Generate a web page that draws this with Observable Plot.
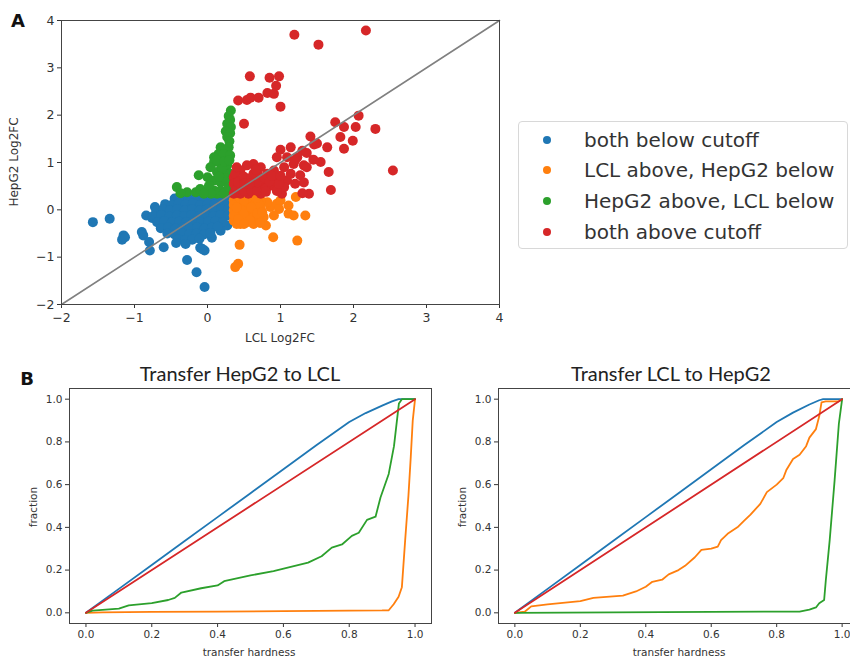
<!DOCTYPE html>
<html><head><meta charset="utf-8">
<script src="https://cdn.jsdelivr.net/npm/d3@7"></script>
<script src="https://cdn.jsdelivr.net/npm/@observablehq/plot@0.6"></script>
<style>
body{margin:0;background:#fff;overflow:hidden}
#root{position:relative;width:850px;height:659px;overflow:hidden;font-family:"DejaVu Sans",sans-serif;color:#333;background:#fff}
.abs{position:absolute;white-space:nowrap;line-height:1}
svg{position:absolute;overflow:visible}
</style></head><body><div id="root"></div>
<script>
// ---------- categories & colours ----------
const categories = ["both below cutoff", "LCL above, HepG2 below", "HepG2 above, LCL below", "both above cutoff"];
const palette = ["#1f77b4", "#ff7f0e", "#2ca02c", "#d62728"];

// ---------- panel A scatter values (LCL Log2FC, HepG2 Log2FC) ----------
const bothBelow = [
  [-1.57,-0.26],[-1.34,-0.19],[-1.15,-0.54],[-1.17,-0.63],[-1.13,-0.58],[-0.90,-0.47],[-0.88,-0.54],[-0.80,-0.68],
  [-0.79,-0.86],[-0.84,-0.12],[-0.72,0.06],[-0.60,-0.79],[-0.28,-1.06],[-0.15,-1.32],[-0.04,-1.63],[-0.10,-0.80],
  [-0.04,-0.86],[-0.07,-0.83],[0.06,-0.59],[0.18,-0.44],[0.27,-0.33],[-0.76,-0.17],[-0.66,-0.10],
  [-0.45,0.24],[-0.36,0.26],[-0.26,0.25],[-0.15,0.27],[-0.05,0.24],[0.05,0.26],[0.15,0.25],[0.25,0.24],
  [-0.58,0.12],[-0.49,0.10],[-0.40,0.13],[-0.30,0.11],[-0.20,0.13],[-0.10,0.10],[0.00,0.12],[0.10,0.11],[0.20,0.13],[0.28,0.12],
  [-0.70,-0.02],[-0.61,0.01],[-0.51,-0.01],[-0.41,0.02],[-0.31,-0.01],[-0.21,0.01],[-0.11,-0.02],[-0.01,0.01],[0.09,-0.01],[0.19,0.02],[0.28,0.00],
  [-0.74,-0.13],[-0.63,-0.11],[-0.52,-0.14],[-0.42,-0.12],[-0.32,-0.13],[-0.22,-0.11],[-0.12,-0.14],[-0.02,-0.12],[0.08,-0.13],[0.18,-0.11],[0.28,-0.12],
  [-0.69,-0.26],[-0.59,-0.24],[-0.49,-0.27],[-0.39,-0.25],[-0.29,-0.26],[-0.19,-0.24],[-0.09,-0.27],[0.01,-0.25],[0.11,-0.24],[0.21,-0.26],
  [-0.64,-0.39],[-0.54,-0.37],[-0.44,-0.40],[-0.34,-0.38],[-0.24,-0.39],[-0.14,-0.37],[-0.04,-0.40],[0.06,-0.38],[0.14,-0.36],
  [-0.55,-0.50],[-0.45,-0.52],[-0.35,-0.49],[-0.25,-0.51],[-0.15,-0.50],[-0.05,-0.52],[0.04,-0.49],
  [-0.40,-0.62],[-0.31,-0.64],[-0.21,-0.63],[-0.11,-0.61],[-0.30,-0.72],[-0.43,-0.70]
];
const lclAbove = [
  [0.36,0.20],[0.45,0.13],[0.54,0.16],[0.63,0.20],[0.36,-0.01],[0.45,-0.08],[0.54,-0.05],[0.63,-0.01],[0.73,0.02],
  [0.36,-0.23],[0.45,-0.30],[0.54,-0.26],[0.63,-0.30],[0.77,-0.15],[0.80,-0.33],[0.86,0.06],[0.82,0.16],[0.95,0.13],
  [1.00,0.20],[0.98,0.02],[1.11,0.09],[1.21,0.27],[1.11,-0.08],[1.18,-0.12],[1.34,-0.12],[0.90,-0.58],[1.23,-0.65],
  [0.44,-0.74],[0.42,-1.14],[0.38,-1.21],[0.91,-0.12],[0.73,0.20],[0.36,0.10],[0.45,0.24],[0.54,0.05],[0.63,0.10],
  [0.36,-0.12],[0.45,0.03],[0.54,-0.16],[0.63,-0.15],[0.70,-0.22],[0.40,-0.30],[0.70,0.12],[0.55,0.25],
  [0.40,0.05],[0.50,-0.10],[0.60,0.05],[0.68,-0.08],[0.42,-0.20],[0.50,0.20],[0.58,-0.22],[0.67,0.25],[0.75,-0.05],
  [0.72,-0.28],[0.50,-0.30]
];
const hepg2Above = [
  [0.32,2.10],[0.29,1.98],[0.31,1.90],[0.27,1.82],[0.32,1.75],[0.25,1.66],[0.31,1.62],[0.27,1.54],[0.30,1.45],
  [0.18,1.32],[0.29,1.32],[0.24,1.25],[0.15,1.18],[0.09,1.11],[0.22,1.18],[0.31,1.15],[0.09,1.01],[0.18,0.97],
  [0.27,0.94],[0.13,0.80],[0.22,0.76],[0.31,0.76],[-0.12,0.73],[0.00,0.69],[0.09,0.62],[0.18,0.58],[0.29,0.58],
  [-0.42,0.48],[-0.28,0.37],[-0.37,0.35],[-0.16,0.37],[-0.10,0.44],[0.00,0.41],[0.09,0.41],[0.18,0.41],[0.27,0.41],
  [0.13,0.34],[0.02,0.51],[0.20,0.87],[0.04,0.90],[0.13,1.05],[0.23,1.02],[0.30,1.05],[0.05,0.34],[-0.05,0.34],
  [0.22,0.34],[0.29,0.48],[0.25,0.66],[0.16,0.70]
];
const bothAbove = [
  [1.19,3.70],[2.17,3.79],[1.52,3.49],[0.58,2.82],[0.85,2.79],[0.98,2.82],[0.94,2.62],[0.42,2.31],[0.54,2.32],
  [0.59,2.37],[0.70,2.37],[0.82,2.47],[0.91,2.45],[1.00,2.18],[0.50,1.82],[1.75,1.85],[1.87,1.75],[2.07,1.99],
  [2.03,1.75],[2.30,1.71],[1.82,1.54],[1.99,1.46],[1.87,1.29],[1.41,1.55],[1.64,1.32],[1.46,1.38],[1.55,1.01],
  [1.45,1.06],[1.66,0.80],[1.69,0.42],[2.54,0.83],[1.14,1.32],[1.00,1.27],[1.30,1.25],[1.18,0.97],[1.32,0.94],
  [1.27,0.73],[1.32,0.58],[1.39,0.34],[1.30,0.35],[1.09,0.62],[1.02,0.34],[0.95,1.11],[0.86,0.51],[0.82,0.76],
  [0.73,0.90],[0.63,0.97],[0.54,0.94],[0.45,0.83],[0.36,0.69],[0.45,0.48],[0.54,0.62],[0.63,0.76],[0.38,0.41],
  [0.63,0.48],[0.77,0.58],[0.73,0.34],[0.91,0.83],[1.05,0.90],[1.14,0.76],[1.23,1.11],[1.05,0.48],[0.45,0.34],
  [0.56,0.34],[0.38,0.76],[1.09,1.11],[1.20,1.05],[1.36,1.20],[1.50,1.40],[0.36,0.55],[0.45,0.62],[0.54,0.48],
  [0.63,0.62],[0.72,0.48],[0.72,0.70],[0.36,0.34],[0.90,0.62],[0.95,0.40],[1.20,0.55],[1.36,0.90],
  [0.40,0.45],[0.50,0.40],[0.60,0.40],[0.68,0.40],[0.80,0.45],[0.42,0.58],[0.50,0.70],[0.60,0.68],[0.68,0.58],
  [0.78,0.68],[0.85,0.60],[0.88,0.72],[0.50,0.55],[0.58,0.55],[0.66,0.85],[0.40,0.90],[0.80,0.38],[0.98,0.55],[1.00,0.72]
];
const diagonalA = [-2, 4];
const ticksA = [-2, -1, 0, 1, 2, 3, 4];

// ---------- panel B curves ----------
const ticksB = [0, 0.2, 0.4, 0.6, 0.8, 1.0];
// Transfer HepG2 to LCL
const h2l_blueX = [0,0.1,0.2,0.3,0.4,0.5,0.6,0.7,0.8,0.85,0.9,0.93,0.95,0.97,1.0];
const h2l_blueY = [0,0.112,0.224,0.336,0.448,0.56,0.672,0.784,0.893,0.935,0.97,0.99,1.0,1.0,1.0];
const h2l_orangeX = [0,0.05,0.2,0.4,0.6,0.8,0.9,0.92,0.935,0.95,0.96,0.97,0.98,0.987,0.993,1.0];
const h2l_orangeY = [0,0.002,0.004,0.006,0.008,0.01,0.011,0.012,0.04,0.075,0.12,0.34,0.55,0.73,0.9,1.0];
const h2l_greenX = [0,0.02,0.1,0.13,0.2,0.25,0.27,0.29,0.35,0.4,0.42,0.5,0.57,0.61,0.675,0.716,0.747,0.778,0.808,0.829,0.854,0.88,0.895,0.92,0.936,0.951,0.96,1.0];
const h2l_greenY = [0,0.01,0.02,0.035,0.045,0.06,0.07,0.095,0.115,0.128,0.148,0.175,0.195,0.21,0.235,0.265,0.305,0.32,0.36,0.375,0.435,0.45,0.54,0.65,0.78,0.98,1.0,1.0];
const h2l_redX = [0, 1];
const h2l_redY = [0, 1];
// Transfer LCL to HepG2
const l2h_blueX = [0,0.1,0.2,0.3,0.4,0.5,0.6,0.7,0.8,0.85,0.9,0.93,0.942,0.97,1.0];
const l2h_blueY = [0,0.112,0.224,0.336,0.448,0.56,0.672,0.784,0.893,0.937,0.975,0.995,1.0,1.0,1.0];
const l2h_orangeX = [0,0.03,0.05,0.1,0.2,0.24,0.33,0.37,0.4,0.42,0.45,0.47,0.5,0.52,0.55,0.57,0.6,0.62,0.63,0.65,0.68,0.7,0.72,0.75,0.77,0.8,0.82,0.83,0.85,0.87,0.89,0.9,0.92,0.93,0.937,0.95,0.99,1.0];
const l2h_orangeY = [0,0.005,0.03,0.04,0.055,0.07,0.08,0.1,0.122,0.145,0.155,0.18,0.2,0.22,0.26,0.295,0.3,0.31,0.34,0.37,0.4,0.43,0.46,0.51,0.565,0.6,0.63,0.67,0.72,0.74,0.78,0.82,0.86,0.92,0.985,0.99,0.99,1.0];
const l2h_greenX = [0,0.3,0.6,0.87,0.9,0.92,0.93,0.945,0.95,0.962,0.977,0.99,1.0];
const l2h_greenY = [0,0.002,0.004,0.006,0.015,0.025,0.045,0.06,0.15,0.34,0.62,0.885,1.0];
const l2h_redX = [0, 1];
const l2h_redY = [0, 1];

// ---------- build ----------
const root = document.getElementById("root");
function label(text, cx, cy, size, opts = {}) {
  const d = document.createElement("div");
  d.className = "abs";
  d.textContent = text;
  d.style.left = cx + "px";
  d.style.top = cy + "px";
  d.style.fontSize = size + "px";
  if (opts.family) d.style.fontFamily = opts.family;
  if (opts.bold) d.style.fontWeight = "bold";
  d.style.color = opts.color || "#333";
  d.style.transform = "translate(-50%,-50%)" + (opts.rotate ? " rotate(-90deg)" : "");
  root.appendChild(d);
}
function place(svg, left, top) {
  svg.style.left = left + "px";
  svg.style.top = top + "px";
  root.appendChild(svg);
}

const scatter = [];
[bothBelow, lclAbove, hepg2Above, bothAbove].forEach((arr, i) =>
  arr.forEach(([x, y]) => scatter.push({x, y, cat: categories[i]})));

const plotA = Plot.plot({
  width: 510, height: 345,
  marginLeft: 61, marginRight: 11, marginTop: 20, marginBottom: 41,
  style: {fontSize: "12.5px", fontFamily: "DejaVu Sans", color: "#333", background: "transparent"},
  x: {domain: [-2, 4], ticks: ticksA, tickFormat: d3.format("d"), label: null, tickSize: 4, tickPadding: 5},
  y: {domain: [-2, 4], ticks: ticksA, tickFormat: d3.format("d"), label: null, tickSize: 4, tickPadding: 3},
  color: {domain: categories, range: palette},
  marks: [
    Plot.dot(scatter, {x: "x", y: "y", fill: "cat", r: 5}),
    Plot.line(diagonalA, {x: d => d, y: d => d, stroke: "#808080", strokeWidth: 1.6}),
    Plot.frame({stroke: "#444"})
  ]
});
place(plotA, 0, 0);

function curves(spec) {
  const rows = [];
  spec.forEach(([xs, ys, c]) => xs.forEach((x, i) => rows.push({x, y: ys[i], s: c})));
  return rows;
}
function plotB(rows, width, mL, mR) {
  return Plot.plot({
    width, height: 279,
    marginLeft: mL, marginRight: mR, marginTop: 8, marginBottom: 36,
    style: {fontSize: "10.5px", fontFamily: "DejaVu Sans", color: "#333", background: "transparent"},
    x: {domain: [-0.05, 1.05], ticks: ticksB, tickFormat: ".1f", label: null, tickSize: 4, tickPadding: 3},
    y: {domain: [-0.05, 1.05], ticks: ticksB, tickFormat: ".1f", label: null, tickSize: 4, tickPadding: 3},
    color: {domain: palette, range: palette},
    marks: [
      Plot.line(rows, {x: "x", y: "y", z: "s", stroke: "s", strokeWidth: 1.8}),
      Plot.frame({stroke: "#444"})
    ]
  });
}
const rowsL = curves([[h2l_blueX, h2l_blueY, palette[0]], [h2l_orangeX, h2l_orangeY, palette[1]], [h2l_greenX, h2l_greenY, palette[2]], [h2l_redX, h2l_redY, palette[3]]]);
const rowsR = curves([[l2h_blueX, l2h_blueY, palette[0]], [l2h_orangeX, l2h_orangeY, palette[1]], [l2h_greenX, l2h_greenY, palette[2]], [l2h_redX, l2h_redY, palette[3]]]);
place(plotB(rowsL, 440, 69, 9), 0, 380);
place(plotB(rowsR, 420, 58, 2), 440, 380);

// ---------- legend ----------
const lg = document.createElement("div");
lg.className = "abs";
Object.assign(lg.style, {left: "518px", top: "121px", width: "330px", height: "128px", border: "1px solid #d8d8d8", borderRadius: "4px", boxSizing: "border-box"});
root.appendChild(lg);
const legendY = [140, 170, 201, 232];
categories.forEach((c, i) => {
  const dot = document.createElement("div");
  dot.className = "abs";
  Object.assign(dot.style, {left: "543px", top: (legendY[i] - 4) + "px", width: "8px", height: "8px", borderRadius: "50%", background: palette[i]});
  root.appendChild(dot);
  const t = document.createElement("div");
  t.className = "abs";
  t.textContent = c;
  Object.assign(t.style, {left: "584px", top: legendY[i] + "px", fontSize: "20px", color: "#333", transform: "translateY(-50%)"});
  root.appendChild(t);
});

// ---------- texts ----------
label("A", 18, 21, 18, {bold: true, color: "#111"});
label("HepG2 Log2FC", 14, 162, 12, {rotate: true});
label("LCL Log2FC", 280, 338, 12);
label("B", 27, 379, 18, {bold: true, color: "#111"});
label("Transfer HepG2 to LCL", 240, 373, 20, {family: "Lato", color: "#222"});
label("Transfer LCL to HepG2", 671, 373, 20, {family: "Lato", color: "#222"});
label("fraction", 33, 507, 10.5, {rotate: true});
label("fraction", 462, 507, 10.5, {rotate: true});
label("transfer hardness", 249, 652, 10.5);
label("transfer hardness", 679, 652, 10.5);
</script></body></html>
